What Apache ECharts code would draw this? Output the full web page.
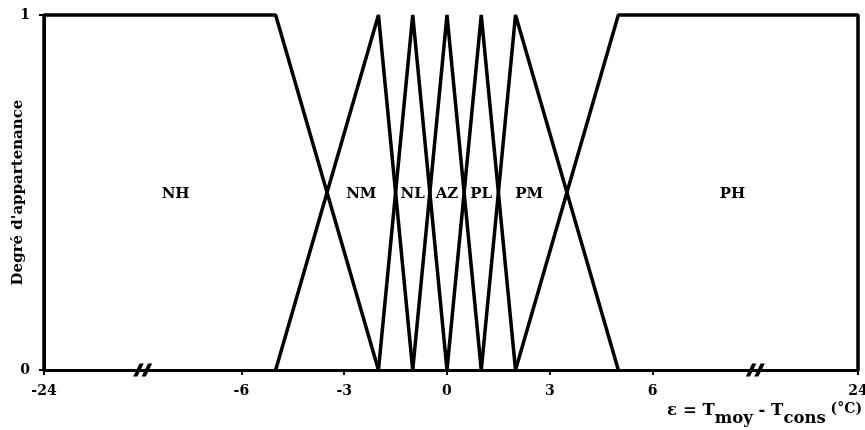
<!DOCTYPE html>
<html>
<head>
<meta charset="utf-8">
<script src="https://cdn.jsdelivr.net/npm/echarts@6/dist/echarts.min.js"></script>
<style>
  html, body { margin: 0; padding: 0; background: #fff; }
  #chart { width: 865px; height: 430px; }
</style>
</head>
<body>
<div id="chart"></div>
<script>
/* fonctions d'appartenance : points [x, degré] */
var NH = [[-24, 0], [-24, 1], [-5, 1], [-2, 0]];
var NM = [[-5, 0], [-2, 1], [-1, 0]];
var NL = [[-2, 0], [-1, 1], [0, 0]];
var AZ = [[-1, 0], [0, 1], [1, 0]];
var PL = [[0, 0], [1, 1], [2, 0]];
var PM = [[1, 0], [2, 1], [5, 0]];
var PH = [[2, 0], [5, 1], [24, 1], [24, 0]];

var setNames = ['NH', 'NM', 'NL', 'AZ', 'PL', 'PM', 'PH'];
var setLabelX = [-12, -2.5, -1, 0, 1, 2.4, 13];
var tickLabels = [-24, -6, -3, 0, 3, 6, 24];
var breakX = [-15, 15];

/* axe coupé : linéaire entre -6 et 6, compressé au-delà */
var KL = 0.32, KR = 0.333;
function toAxis(x) {
  if (x > 6) return 6 + (x - 6) * KR;
  if (x < -6) return -6 + (x + 6) * KL;
  return x;
}
function fromAxis(u) {
  if (u > 6) return 6 + (u - 6) / KR;
  if (u < -6) return -6 + (u + 6) / KL;
  return u;
}

var font = 'DejaVu Serif';
var chart = echarts.init(document.getElementById('chart'));

var series = [NH, NM, NL, AZ, PL, PM, PH].map(function (pts, i) {
  return {
    name: setNames[i],
    type: 'line',
    symbol: 'none',
    clip: false,
    lineStyle: { color: '#000', width: 3.5 },
    data: pts.map(function (p) { return [toAxis(p[0]), p[1]]; })
  };
});

series.push({
  type: 'scatter',
  symbolSize: 0,
  clip: false,
  itemStyle: { opacity: 1 },
  label: {
    show: true,
    position: 'inside',
    formatter: function (p) { return p.data[2]; },
    color: '#000',
    textBorderWidth: 0,
    fontFamily: font,
    fontWeight: 'bold',
    fontSize: 15
  },
  data: setNames.map(function (n, i) { return [toAxis(setLabelX[i]), 0.495, n]; })
});

series.push({
  type: 'scatter',
  symbol: 'path://M0,14 L4,14 L10,0 L6,0 Z M8,14 L12,14 L18,0 L14,0 Z',
  symbolSize: [19, 13],
  clip: false,
  z: 10,
  itemStyle: { color: '#000', opacity: 1 },
  data: breakX.map(function (x) { return [toAxis(x), 0]; })
});

var option = {
  animation: false,
  grid: { left: 44, right: 7, top: 15, bottom: 60, outerBoundsMode: 'none' },
  xAxis: {
    type: 'value',
    min: toAxis(-24),
    max: toAxis(24),
    splitLine: { show: false },
    axisLine: { lineStyle: { color: '#000', width: 3 } },
    axisTick: {
      customValues: tickLabels.map(toAxis),
      length: 5,
      lineStyle: { color: '#000', width: 2 }
    },
    axisLabel: {
      customValues: tickLabels.map(toAxis),
      formatter: function (v) { return String(Math.round(fromAxis(v))); },
      color: '#000',
      fontFamily: font,
      fontWeight: 'bold',
      fontSize: 14,
      margin: 14
    },
    name: '{a|ε = T}{b|moy}{a| - T}{b|cons}{c| (°C)}',
    nameLocation: 'end',
    nameGap: 4,
    nameMoveOverlap: false,
    nameTextStyle: {
      align: 'right',
      verticalAlign: 'top',
      padding: [32, 0, 0, 0],
      rich: {
        a: { fontFamily: font, fontWeight: 'bold', fontSize: 16.5, color: '#000', verticalAlign: 'top', lineHeight: 18 },
        b: { fontFamily: font, fontWeight: 'bold', fontSize: 16.5, color: '#000', verticalAlign: 'top', lineHeight: 18, padding: [8, 0, 0, 0] },
        c: { fontFamily: font, fontWeight: 'bold', fontSize: 14, color: '#000', verticalAlign: 'top', lineHeight: 12 }
      }
    }
  },
  yAxis: {
    type: 'value',
    min: 0,
    max: 1,
    interval: 1,
    splitLine: { show: false },
    axisLine: { show: true, onZero: false, lineStyle: { color: '#000', width: 3 } },
    axisTick: { show: true, length: 5, lineStyle: { color: '#000', width: 2 } },
    axisLabel: {
      color: '#000',
      fontFamily: font,
      fontWeight: 'bold',
      fontSize: 14,
      margin: 14
    },
    name: "Degré d'appartenance",
    nameLocation: 'middle',
    nameGap: 18,
    nameMoveOverlap: false,
    nameTextStyle: {
      color: '#000',
      fontFamily: font,
      fontWeight: 'bold',
      fontSize: 15
    }
  },
  series: series
};

chart.setOption(option);
</script>
</body>
</html>
